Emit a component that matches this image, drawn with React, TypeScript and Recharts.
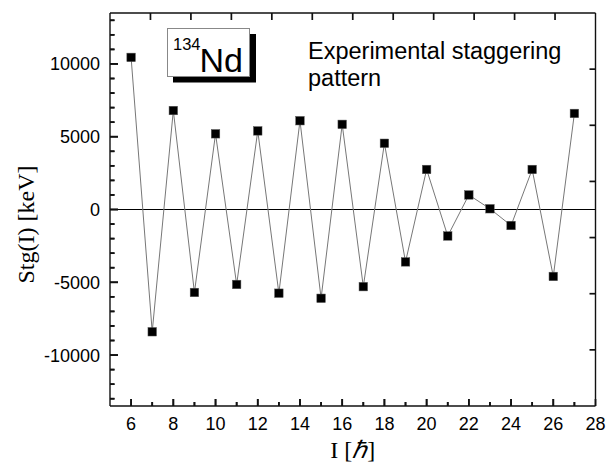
import React from 'react';
import { LineChart, Line, XAxis, YAxis, ReferenceLine, Label } from 'recharts';

const spins = [6, 7, 8, 9, 10, 11, 12, 13, 14, 15, 16, 17, 18, 19, 20, 21, 22, 23, 24, 25, 26, 27];
const staggering = [10450, -8400, 6800, -5700, 5200, -5150, 5400, -5750, 6100, -6100, 5850, -5300, 4550, -3600, 2750, -1820, 1000, 50, -1100, 2750, -4600, 6600];

const xMinorTicks = [6, 7, 8, 9, 10, 11, 12, 13, 14, 15, 16, 17, 18, 19, 20, 21, 22, 23, 24, 25, 26, 27];
const xLabelTicks = [6, 8, 10, 12, 14, 16, 18, 20, 22, 24, 26, 28];
const yMinorTicks = [-13000, -12000, -11000, -10000, -9000, -8000, -7000, -6000, -5000, -4000, -3000, -2000, -1000, 0, 1000, 2000, 3000, 4000, 5000, 6000, 7000, 8000, 9000, 10000, 11000, 12000, 13000];
const yLabelTicks = [-10000, -5000, 0, 5000, 10000];
const topTicks = [1, 2, 3, 4, 5, 6, 7, 8, 9, 10, 11];
const rightTicks = [1, 2, 3, 4, 5, 6];

const X_DOMAIN = [5, 28];
const Y_DOMAIN = [-13500, 13500];
const TOP_DOMAIN = [0, 12];
const RIGHT_DOMAIN = [0, 7];

const data = spins.map((s, i) => ({ I: s, stg: staggering[i] }));
// tick-mark anchor points on the frame, placed through the axes' scales
const bottomTickData = xMinorTicks.map((v) => ({ I: v, stg: Y_DOMAIN[0] }));
const leftTickData = yMinorTicks.map((v) => ({ I: X_DOMAIN[0], stg: v }));
const topTickData = topTicks.map((v) => ({ I: v, stg: Y_DOMAIN[1] }));
const rightTickData = rightTicks.map((v) => ({ I: X_DOMAIN[1], stg: v }));

const SANS = '"Liberation Sans", Arial, sans-serif';
const SERIF = '"Liberation Serif", "Times New Roman", serif';
const AXIS = '#111';
const TW = 1.7;

function XTick(props: any) {
  const x = Number(props.x);
  const y = Number(props.y);
  const v = props.payload ? props.payload.value : 0;
  const major = xLabelTicks.includes(v);
  return (
    <g>
      <line x1={x} y1={y} x2={x} y2={y - (major ? 7 : 4)} stroke={AXIS} strokeWidth={TW} />
      {major ? (
        <text x={x} y={y + 23.5} textAnchor="middle" fontFamily={SANS} fontSize={18} fill="#000">
          {v}
        </text>
      ) : null}
    </g>
  );
}

function YTick(props: any) {
  const x = Number(props.x);
  const y = Number(props.y);
  const v = props.payload ? props.payload.value : 0;
  const major = yLabelTicks.includes(v);
  return (
    <g>
      <line x1={x} y1={y} x2={x + (major ? 8 : 4.5)} y2={y} stroke={AXIS} strokeWidth={TW} />
      {major ? (
        <text x={x - 10} y={y + 6.5} textAnchor="end" fontFamily={SANS} fontSize={18} fill="#000">
          {v}
        </text>
      ) : null}
    </g>
  );
}

const SquareDot = (props: any) => {
  const { cx, cy } = props;
  if (cx == null || cy == null) return null;
  return <rect x={cx - 4.25} y={cy - 4.25} width={8.5} height={8.5} fill="#000" stroke="#555" strokeWidth={0.5} />;
};

const BottomMark = (props: any) => {
  const { cx, cy, payload } = props;
  if (cx == null || cy == null) return null;
  const len = xLabelTicks.includes(payload.I) ? 7 : 4;
  return <rect x={cx - TW / 2} y={cy - len} width={TW} height={len} fill={AXIS} />;
};
const LeftMark = (props: any) => {
  const { cx, cy, payload } = props;
  if (cx == null || cy == null) return null;
  const len = yLabelTicks.includes(payload.stg) ? 8 : 4.5;
  return <rect x={cx} y={cy - TW / 2} width={len} height={TW} fill={AXIS} />;
};
const TopMark = (props: any) => {
  const { cx, cy } = props;
  if (cx == null || cy == null) return null;
  return <rect x={cx - TW / 2} y={cy} width={TW} height={7} fill={AXIS} />;
};
const RightMark = (props: any) => {
  const { cx, cy } = props;
  if (cx == null || cy == null) return null;
  return <rect x={cx - 6} y={cy - TW / 2} width={6} height={TW} fill={AXIS} />;
};

export default function App() {
  return (
    <div style={{ position: 'absolute', left: 0, top: 0, width: 607, height: 471, background: '#fff' }}>
      <LineChart width={607} height={471} data={data} margin={{ top: 12, right: 10.5, bottom: 0, left: 0 }}>
        <XAxis
          xAxisId="b"
          dataKey="I"
          type="number"
          domain={X_DOMAIN}
          ticks={[...xMinorTicks, 28]}
          interval={0}
          allowDataOverflow
          height={65}
          tickSize={0}
          tickMargin={0}
          tickLine={false}
          tick={XTick}
          axisLine={{ stroke: AXIS, strokeWidth: 1.4 }}
        >
          <Label
            content={(p: any) => {
              const vb = p.viewBox;
              return (
                <text x={vb.x + vb.width / 2} y={vb.y + 52} textAnchor="middle" fontFamily={SERIF} fontSize={24} fill="#000">
                  I [<tspan fontStyle="italic">ℏ</tspan>]
                </text>
              );
            }}
          />
        </XAxis>
        <XAxis
          xAxisId="t"
          dataKey="I"
          orientation="top"
          type="number"
          domain={TOP_DOMAIN}
          ticks={topTicks}
          allowDataOverflow
          height={1}
          tickLine={false}
          tick={false}
          axisLine={{ stroke: AXIS, strokeWidth: 1.4 }}
        />
        <YAxis
          yAxisId="l"
          type="number"
          domain={Y_DOMAIN}
          ticks={yMinorTicks}
          interval={0}
          allowDataOverflow
          width={110}
          tickSize={0}
          tickMargin={0}
          tickLine={false}
          tick={YTick}
          axisLine={{ stroke: AXIS, strokeWidth: 1.4 }}
        >
          <Label
            content={(p: any) => {
              const vb = p.viewBox;
              const cx = 26;
              const cy = vb.y + vb.height / 2 + 15;
              return (
                <text x={cx} y={cy} transform={`rotate(-90 ${cx} ${cy})`} textAnchor="middle" dominantBaseline="central" fontFamily={SERIF} fontSize={24} fill="#000">
                  Stg(I) [keV]
                </text>
              );
            }}
          />
        </YAxis>
        <YAxis
          yAxisId="r"
          orientation="right"
          type="number"
          domain={RIGHT_DOMAIN}
          ticks={rightTicks}
          allowDataOverflow
          width={1}
          tickLine={false}
          tick={false}
          axisLine={{ stroke: AXIS, strokeWidth: 1.4 }}
        />

        <Line xAxisId="b" yAxisId="l" data={bottomTickData} dataKey="stg" stroke="none" dot={<BottomMark />} activeDot={false} legendType="none" isAnimationActive={false} />
        <Line xAxisId="b" yAxisId="l" data={leftTickData} dataKey="stg" stroke="none" dot={<LeftMark />} activeDot={false} legendType="none" isAnimationActive={false} />
        <Line xAxisId="t" yAxisId="l" data={topTickData} dataKey="stg" stroke="none" dot={<TopMark />} activeDot={false} legendType="none" isAnimationActive={false} />
        <Line xAxisId="b" yAxisId="r" data={rightTickData} dataKey="stg" stroke="none" dot={<RightMark />} activeDot={false} legendType="none" isAnimationActive={false} />

        <ReferenceLine xAxisId="b" yAxisId="l" y={0} stroke="#000" strokeWidth={1.2} />
        <Line
          xAxisId="b"
          yAxisId="l"
          dataKey="stg"
          type="linear"
          stroke="#777"
          strokeWidth={1}
          dot={<SquareDot />}
          activeDot={false}
          isAnimationActive={false}
        />
      </LineChart>
      <svg width={607} height={471} style={{ position: 'absolute', left: 0, top: 0, pointerEvents: 'none' }}>
        <rect x={173} y={34} width={83} height={48.5} fill="#000" />
        <rect x={167.5} y={28.5} width={82} height={48} fill="#fff" stroke="#888" strokeWidth={1} />
        <text x={173} y={50} fontFamily={SANS} fontSize={16.5} fill="#000">134</text>
        <text x={199.5} y={71.5} fontFamily={SANS} fontSize={34} fill="#000">Nd</text>
        <text x={308} y={59} fontFamily={SANS} fontSize={23.5} fill="#000">Experimental staggering</text>
        <text x={308} y={86} fontFamily={SANS} fontSize={23.5} fill="#000">pattern</text>
      </svg>
    </div>
  );
}
